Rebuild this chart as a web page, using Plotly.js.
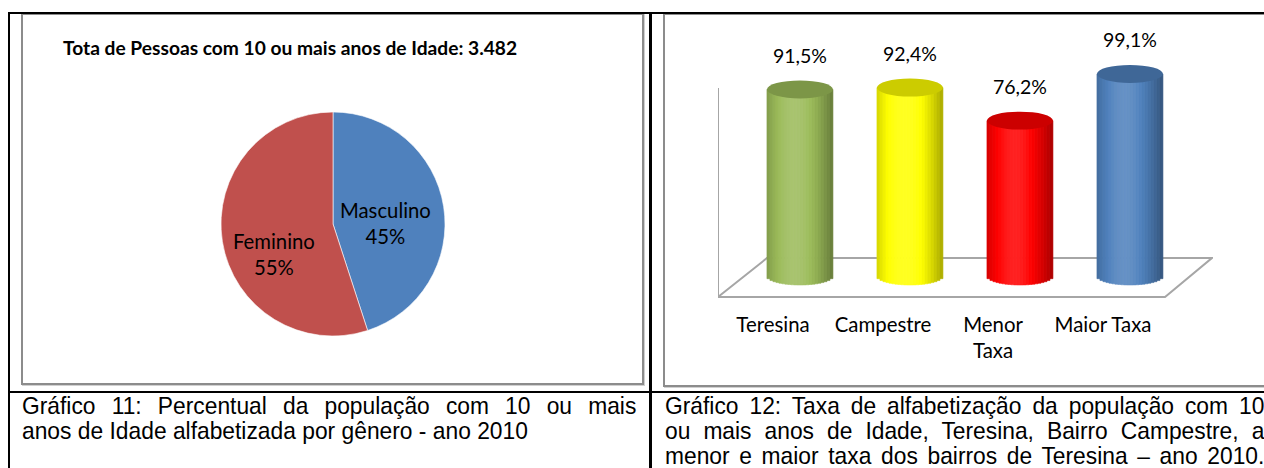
<!DOCTYPE html>
<html>
<head>
<meta charset="utf-8">
<script src="https://cdn.plot.ly/plotly-3.0.1.min.js"></script>
<style>
  html, body { margin:0; padding:0; background:#fff; width:1264px; height:468px; overflow:hidden; }
  .ln { position:absolute; background:#000; }
  .gbox { position:absolute; border:2px solid #8c8c8c; box-sizing:border-box; box-shadow: 1px 1px 0 #d0d0d0; }
  .cap { position:absolute; font-family:"Liberation Sans",Arial,sans-serif; font-size:24.4px; line-height:25px; color:#000; transform:scaleX(0.935); transform-origin:0 0; }
  .j { text-align:justify; text-align-last:justify; white-space:normal; }
  .l { text-align:left; white-space:nowrap; }
  #plot { position:absolute; left:0; top:0; width:1264px; height:468px; }
</style>
</head>
<body>
<div class="gbox" style="left:21px; top:13px; width:623px; height:372px;"></div>
<div class="gbox" style="left:663px; top:13px; width:640px; height:374px;"></div>
<div class="ln" style="left:8px; top:12px; width:1256px; height:2px;"></div>
<div class="ln" style="left:8px; top:12px; width:2px; height:456px;"></div>
<div class="ln" style="left:649px; top:12px; width:3px; height:456px;"></div>
<div class="ln" style="left:8px; top:391px; width:1256px; height:2px;"></div>
<div id="plot"></div>
<div class="cap" style="left:22px; top:393px; width:657px;">
  <div class="j" id="capL1"></div>
  <div class="l" id="capL2"></div>
</div>
<div class="cap" style="left:665px; top:393px; width:641px;">
  <div class="j" id="capR1"></div>
  <div class="j" id="capR2"></div>
  <div class="j" id="capR3"></div>
</div>
<script>
// ---------- data ----------
const pieTitle = 'Tota de Pessoas com 10 ou mais anos de Idade: 3.482';
const pieLabels = ['Masculino', 'Feminino'];
const pieValues = [45, 55];
const pieColors = ['#4F81BD', '#C0504D'];

const barCategories = ['Teresina', 'Campestre', 'Menor Taxa', 'Maior Taxa'];
const barTickLabels = ['Teresina', 'Campestre', 'Menor<br>Taxa', 'Maior Taxa'];
const barValues = [91.5, 92.4, 76.2, 99.1];
const barColors = ['#9BBB59', '#FFFF00', '#FF0000', '#4F81BD'];

const captionLeft = ['Gráfico 11: Percentual da população com 10 ou mais',
                     'anos de Idade alfabetizada por gênero - ano 2010'];
const captionRight = ['Gráfico 12: Taxa de alfabetização da população com 10',
                      'ou mais anos de Idade, Teresina, Bairro Campestre, a',
                      'menor e maior taxa dos bairros de Teresina – ano 2010.'];

document.getElementById('capL1').textContent = captionLeft[0];
document.getElementById('capL2').textContent = captionLeft[1];
document.getElementById('capR1').textContent = captionRight[0];
document.getElementById('capR2').textContent = captionRight[1];
document.getElementById('capR3').textContent = captionRight[2];

// ---------- helpers ----------
const W = 1264, H = 468;
const px = x => x / W;
const py = y => 1 - y / H;
function hexToRgb(h) { h = h.replace('#',''); return [0,2,4].map(i => parseInt(h.substr(i,2),16)); }
function shade(hex, f) {
  const c = hexToRgb(hex);
  let r;
  if (f <= 1) r = c.map(v => v * f);
  else { const m = Math.min(1, (f - 1) * 1.3); r = c.map(v => v + (255 - v) * m); }
  return 'rgb(' + r.map(v => Math.round(Math.max(0, Math.min(255, v)))).join(',') + ')';
}
const FONT = 'Lato, sans-serif';

// ---------- pie ----------
const total = pieValues.reduce((a, b) => a + b, 0);
const pieTrace = {
  type: 'pie', labels: pieLabels, values: pieValues, sort: false,
  direction: 'clockwise', rotation: 0, textinfo: 'none', hoverinfo: 'skip',
  marker: { colors: pieColors, line: { color: '#ffffff', width: 0.6 } },
  domain: { x: [px(221), px(445)], y: [py(336), py(112)] }
};
const pieLabelPos = [[385, 223], [274, 254]];
const annotations = [];
annotations.push({
  xref: 'paper', yref: 'paper', x: px(61), y: py(48), xanchor: 'left', yanchor: 'middle',
  text: '<b>' + pieTitle + '</b>', showarrow: false,
  font: { family: FONT, size: 19.2, color: '#000' }
});
pieLabels.forEach((l, i) => {
  annotations.push({
    xref: 'paper', yref: 'paper', x: px(pieLabelPos[i][0]), y: py(pieLabelPos[i][1]),
    xanchor: 'center', yanchor: 'middle', showarrow: false,
    text: l + '<br>' + Math.round(pieValues[i] / total * 100) + '%',
    font: { family: FONT, size: 20.3, color: '#000' }
  });
});

// ---------- cylinders ----------
const N = 22;            // vertical shading strips per cylinder
const cylShift = 0.245;  // perspective shift of cylinders vs. labels (category units)
const cylW = 0.6;        // cylinder width (category units)
const E = 4.4;           // ellipse half height (value units)
const traces = [pieTrace];
const xs = barCategories.map((c, i) => i);
for (let k = 0; k < N; k++) {
  const t = -1 + (k + 0.5) * 2 / N;
  const f = 0.72 + 0.38 * Math.cos((t + 0.15) * Math.PI / 2 * 0.95);
  const b = -E * Math.sqrt(1 - t * t);
  const cols = barColors.map(c => shade(c, f));
  traces.push({
    type: 'bar', x: xs, y: barValues.map(v => v - b), base: barValues.map(() => b),
    width: cylW / N, offset: cylShift - cylW / 2 + k * cylW / N,
    marker: { color: cols, line: { color: cols, width: 0.6 } },
    hoverinfo: 'skip', showlegend: false, xaxis: 'x', yaxis: 'y'
  });
}
const shapes = [];
const floorFront = -10.3, floorBack = 8.8;
shapes.push({ type: 'path', xref: 'x', yref: 'y', layer: 'below',
  path: `M -0.5 ${floorFront} L -0.055 ${floorBack} L 3.99 ${floorBack} L 3.564 ${floorFront} Z`,
  line: { color: '#a6a6a6', width: 2 }, fillcolor: 'rgba(0,0,0,0)' });
shapes.push({ type: 'line', xref: 'x', yref: 'y', layer: 'below',
  x0: -0.5, x1: -0.5, y0: floorFront, y1: 92.2, line: { color: '#a6a6a6', width: 2 } });
barValues.forEach((v, i) => {
  const cx = i + cylShift;
  shapes.push({ type: 'circle', xref: 'x', yref: 'y', layer: 'above',
    x0: cx - cylW / 2, x1: cx + cylW / 2, y0: v - E, y1: v + E,
    fillcolor: shade(barColors[i], 0.8), line: { width: 0 } });
  annotations.push({ xref: 'x', yref: 'y', x: cx, y: v, yshift: 34, showarrow: false,
    xanchor: 'center', yanchor: 'middle',
    text: v.toFixed(1).replace('.', ',') + '%',
    font: { family: FONT, size: 19.5, color: '#000' } });
});

const layout = {
  width: W, height: H, margin: { l: 0, r: 0, t: 0, b: 0 },
  paper_bgcolor: 'rgba(0,0,0,0)', plot_bgcolor: 'rgba(0,0,0,0)',
  showlegend: false, barmode: 'overlay', bargap: 0,
  xaxis: { domain: [px(718), px(1213)], range: [-0.5, 4.0], tickvals: xs, ticktext: barTickLabels,
    showgrid: false, zeroline: false, showline: false, ticks: '', ticklabelstandoff: 10,
    tickfont: { family: FONT, size: 20.4, color: '#000' }, fixedrange: true },
  yaxis: { domain: [py(300.5), py(41.5)], range: [-12, 115], showgrid: false, zeroline: false,
    showline: false, showticklabels: false, ticks: '', fixedrange: true },
  shapes: shapes, annotations: annotations
};
Plotly.newPlot('plot', traces, layout, { displayModeBar: false, staticPlot: true });
</script>
</body>
</html>
